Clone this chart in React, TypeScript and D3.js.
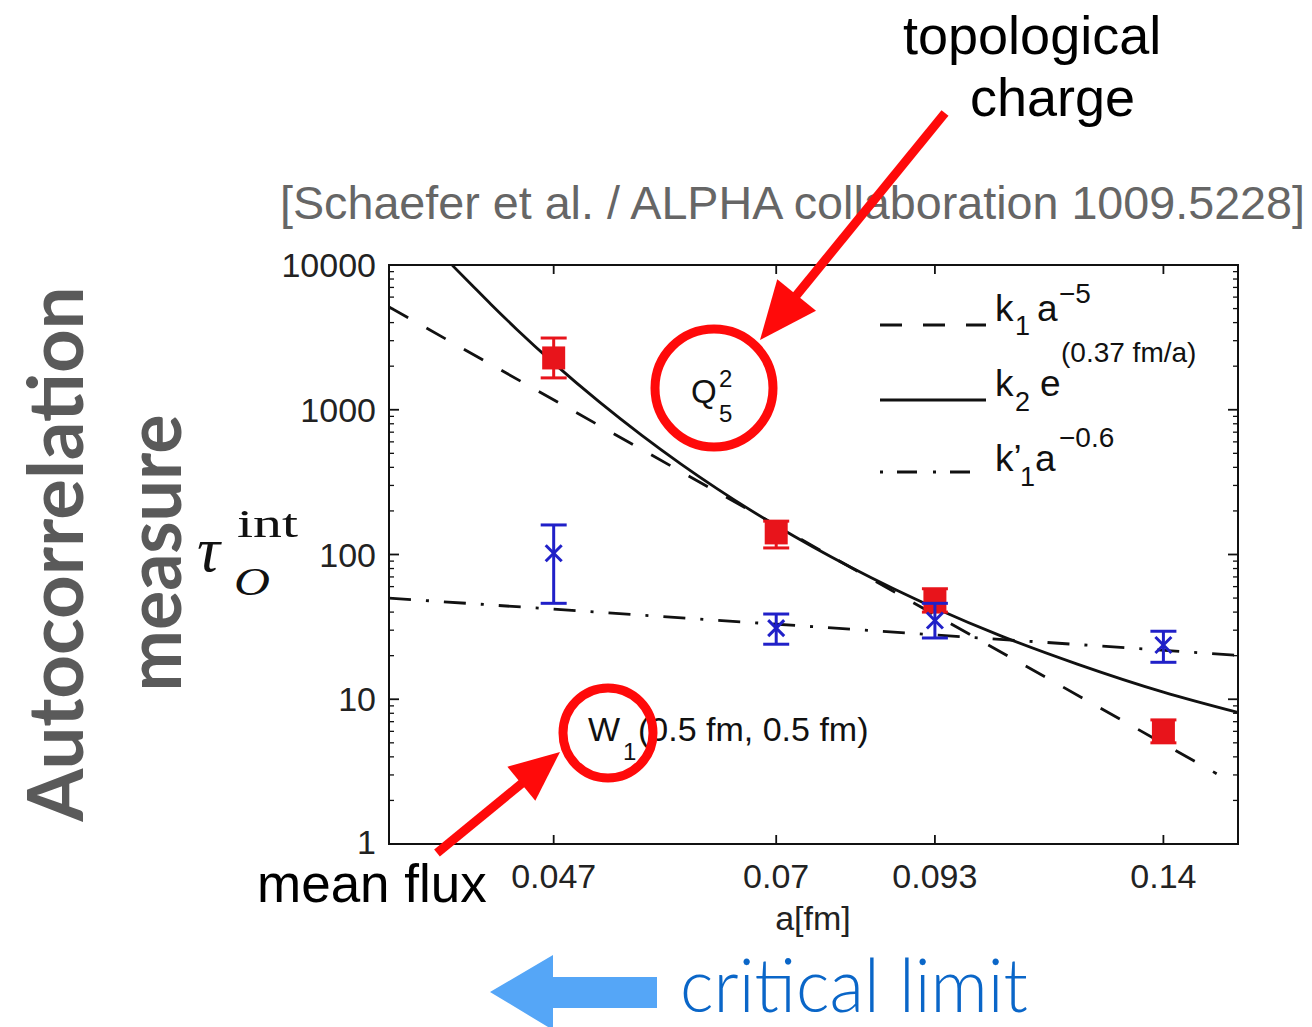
import React from 'react';
import * as d3 from 'd3';

// lattice spacing ticks and tau ticks
const aTicks = [0.047, 0.07, 0.093, 0.14];
const aTickLabels = ['0.047', '0.07', '0.093', '0.14'];
const tauTicks = [1, 10, 100, 1000, 10000];
const tauTickLabels = ['1', '10', '100', '1000', '10000'];

// Q_5^2 (topological charge) – red squares
const topoA = [0.047, 0.07, 0.093, 0.14];
const topoTau = [2280, 141, 48, 5.9];
const topoLo = [1660, 111, 40, 5.0];
const topoHi = [3130, 170, 58, 7.2];

// W_1(0.5 fm, 0.5 fm) (mean flux) – blue crosses
const fluxA = [0.047, 0.07, 0.093, 0.14];
const fluxTau = [102, 31, 35, 23.7];
const fluxLo = [46, 24, 26.5, 18];
const fluxHi = [160, 38.8, 46, 29.5];

// fit curves
const powA = [0.035, 0.154];
const powTau = [5130, 3.06];
const expA = [0.0392, 0.0405, 0.042, 0.044, 0.047, 0.051, 0.055, 0.059, 0.063, 0.07, 0.08, 0.093, 0.105, 0.12, 0.14, 0.16];
const expTau = [9940, 7424, 5360, 3590, 2100, 1133, 668, 423, 284, 158, 81.6, 42.7, 27.1, 17.5, 11.2, 8.1];
const flatA = [0.035, 0.16];
const flatTau = [50, 20.1];

const W = 1312;
const H = 1027;
const left = 389, right = 1238, top = 265, bottom = 844;

const sans = '"Liberation Sans", Arial, Helvetica, sans-serif';
const serif = '"Liberation Serif", "Times New Roman", serif';
const red = '#e8141b';
const blue = '#2020c8';
const annot = '#ff0a0a';

function arrow(x1: number, y1: number, x2: number, y2: number, len: number, half: number) {
  const dx = x2 - x1, dy = y2 - y1;
  const L = Math.hypot(dx, dy);
  const ux = dx / L, uy = dy / L;
  const bx = x2 - ux * len, by = y2 - uy * len;
  const px = -uy, py = ux;
  return {
    shaft: { x1, y1, x2: bx + ux * 2, y2: by + uy * 2 },
    head: `${x2},${y2} ${bx + px * half},${by + py * half} ${bx - px * half},${by - py * half}`,
  };
}

export default function App() {
  const x = d3.scaleLog().domain([0.035, 0.16]).range([left, right]);
  const y = d3.scaleLog().domain([1, 10000]).range([bottom, top]);

  const line = d3
    .line<[number, number]>()
    .x(d => x(d[0]))
    .y(d => y(d[1]))
    .curve(d3.curveMonotoneX);

  const powPath = line(powA.map((a, i) => [a, powTau[i]]) as [number, number][]) || '';
  const expPath = line(expA.map((a, i) => [a, expTau[i]]) as [number, number][]) || '';
  const flatPath = line(flatA.map((a, i) => [a, flatTau[i]]) as [number, number][]) || '';

  // minor log ticks
  const minor: number[] = [];
  [1, 10, 100, 1000].forEach(d => {
    for (let m = 2; m <= 9; m++) minor.push(d * m);
  });

  const arrQ = arrow(945, 113, 760, 340, 58, 25);
  const arrW = arrow(437, 853, 560, 752, 50, 22);

  const cap = 13;
  const sq = 23;
  const xs = 8;

  return (
    <svg width={W} height={H} style={{ position: 'absolute', left: 0, top: 0, background: '#fff' }}>
      <defs>
        <clipPath id="plotClip">
          <rect x={left} y={top} width={right - left} height={bottom - top} />
        </clipPath>
      </defs>
      <rect x={0} y={0} width={W} height={H} fill="#fff" />

      {/* top annotation */}
      <text x={903} y={54} fontFamily={sans} fontSize={54} fill="#000">topological</text>
      <text x={970} y={116} fontFamily={sans} fontSize={54} fill="#000">charge</text>

      {/* citation */}
      <text x={280} y={219} fontFamily={sans} fontSize={46} fill="#666" textLength={1025} lengthAdjust="spacingAndGlyphs">
        [Schaefer et al. / ALPHA collaboration 1009.5228]
      </text>

      {/* y axis side titles */}
      <text transform="translate(83,554) rotate(-90)" textAnchor="middle" fontFamily='Lato, "Open Sans", sans-serif' fontWeight={700} fontSize={76} fill="#5a5a5a" textLength={535} lengthAdjust="spacingAndGlyphs">
        Autocorrelation
      </text>
      <text transform="translate(181,553) rotate(-90)" textAnchor="middle" fontFamily='Lato, "Open Sans", sans-serif' fontWeight={700} fontSize={76} fill="#5a5a5a" textLength={277} lengthAdjust="spacingAndGlyphs">
        measure
      </text>

      {/* tau_O^int label */}
      <text x={197} y={571} fontFamily={serif} fontStyle="italic" fontSize={64} fill="#111">τ</text>
      <text x={237} y={537} fontFamily={serif} fontSize={40} fill="#111" textLength={61} lengthAdjust="spacingAndGlyphs">int</text>
      <text x={234} y={595} fontFamily={serif} fontStyle="italic" fontSize={40} fill="#111" textLength={36} lengthAdjust="spacingAndGlyphs">O</text>

      {/* frame */}
      <rect x={left} y={top} width={right - left} height={bottom - top} fill="none" stroke="#111" strokeWidth={2} />

      {/* y ticks */}
      {tauTicks.map((t, i) => (
        <g key={'yt' + t}>
          <line x1={left} x2={left + 10} y1={y(t)} y2={y(t)} stroke="#111" strokeWidth={1.8} />
          <line x1={right} x2={right - 10} y1={y(t)} y2={y(t)} stroke="#111" strokeWidth={1.8} />
          <text x={376} y={y(t)} dy={t === 1 ? '0.3em' : '0.36em'} textAnchor="end" fontFamily={sans} fontSize={34} fill="#222">
            {tauTickLabels[i]}
          </text>
        </g>
      ))}
      {minor.map(t => (
        <g key={'ym' + t}>
          <line x1={left} x2={left + 5} y1={y(t)} y2={y(t)} stroke="#111" strokeWidth={1.3} />
          <line x1={right} x2={right - 5} y1={y(t)} y2={y(t)} stroke="#111" strokeWidth={1.3} />
        </g>
      ))}

      {/* x ticks */}
      {aTicks.map((a, i) => (
        <g key={'xt' + a}>
          <line x1={x(a)} x2={x(a)} y1={bottom} y2={bottom - 9} stroke="#111" strokeWidth={1.8} />
          <line x1={x(a)} x2={x(a)} y1={top} y2={top + 9} stroke="#111" strokeWidth={1.8} />
          <text x={x(a)} y={888} textAnchor="middle" fontFamily={sans} fontSize={34} fill="#222">
            {aTickLabels[i]}
          </text>
        </g>
      ))}
      <text x={813} y={930} textAnchor="middle" fontFamily={sans} fontSize={34} fill="#222">a[fm]</text>

      {/* fit curves */}
      <g clipPath="url(#plotClip)" fill="none" stroke="#111" strokeWidth={2.8}>
        <path d={powPath} strokeDasharray="22,21" />
        <path d={expPath} />
        <path d={flatPath} strokeDasharray="22,15,3,15" />
      </g>

      {/* topological charge data */}
      {topoA.map((a, i) => (
        <g key={'q' + a} stroke={red} strokeWidth={3}>
          <line x1={x(a)} x2={x(a)} y1={y(topoLo[i])} y2={y(topoHi[i])} />
          <line x1={x(a) - cap} x2={x(a) + cap} y1={y(topoLo[i])} y2={y(topoLo[i])} />
          <line x1={x(a) - cap} x2={x(a) + cap} y1={y(topoHi[i])} y2={y(topoHi[i])} />
          <rect x={x(a) - sq / 2} y={y(topoTau[i]) - sq / 2} width={sq} height={sq} fill={red} stroke="none" />
        </g>
      ))}

      {/* mean flux data */}
      {fluxA.map((a, i) => (
        <g key={'w' + a} stroke={blue} strokeWidth={3}>
          <line x1={x(a)} x2={x(a)} y1={y(fluxLo[i])} y2={y(fluxHi[i])} />
          <line x1={x(a) - cap} x2={x(a) + cap} y1={y(fluxLo[i])} y2={y(fluxLo[i])} />
          <line x1={x(a) - cap} x2={x(a) + cap} y1={y(fluxHi[i])} y2={y(fluxHi[i])} />
          <line x1={x(a) - xs} x2={x(a) + xs} y1={y(fluxTau[i]) - xs} y2={y(fluxTau[i]) + xs} />
          <line x1={x(a) - xs} x2={x(a) + xs} y1={y(fluxTau[i]) + xs} y2={y(fluxTau[i]) - xs} />
        </g>
      ))}

      {/* legend */}
      <g stroke="#111" strokeWidth={2.8}>
        <line x1={880} x2={986} y1={325} y2={325} strokeDasharray="22,21" />
        <line x1={880} x2={986} y1={400} y2={400} />
        <line x1={880} x2={986} y1={472} y2={472} strokeDasharray="3,14,20,16" />
      </g>
      <g fontFamily={sans} fill="#111">
        <text x={995} y={321} fontSize={37}>k</text>
        <text x={1015} y={335} fontSize={27}>1</text>
        <text x={1037} y={321} fontSize={37}>a</text>
        <text x={1059} y={303} fontSize={28}>−5</text>

        <text x={995} y={396} fontSize={37}>k</text>
        <text x={1015} y={411} fontSize={27}>2</text>
        <text x={1040} y={396} fontSize={37}>e</text>
        <text x={1061} y={362} fontSize={28}>(0.37 fm/a)</text>

        <text x={995} y={471} fontSize={37}>k’</text>
        <text x={1020} y={486} fontSize={27}>1</text>
        <text x={1035} y={471} fontSize={37}>a</text>
        <text x={1059} y={447} fontSize={28}>−0.6</text>
      </g>

      {/* in-plot labels */}
      <g fontFamily={sans} fill="#111">
        <text x={691} y={403} fontSize={33}>Q</text>
        <text x={719} y={387} fontSize={24}>2</text>
        <text x={719} y={422} fontSize={24}>5</text>

        <text x={588} y={741} fontSize={34}>W</text>
        <text x={623} y={760} fontSize={24}>1</text>
        <text x={638} y={741} fontSize={34}>(0.5 fm, 0.5 fm)</text>
      </g>

      {/* red annotation circles and arrows */}
      <circle cx={714} cy={388} r={59} fill="none" stroke={annot} strokeWidth={9} />
      <circle cx={608} cy={733} r={45} fill="none" stroke={annot} strokeWidth={9} />
      <line {...arrQ.shaft} stroke={annot} strokeWidth={9} />
      <polygon points={arrQ.head} fill={annot} />
      <line {...arrW.shaft} stroke={annot} strokeWidth={9} />
      <polygon points={arrW.head} fill={annot} />

      <text x={257} y={902} fontFamily={sans} fontSize={53} fill="#000">mean flux</text>

      {/* critical limit */}
      <polygon points="490,992 553,955 553,977 657,977 657,1008 553,1008 553,1030" fill="#55a6f7" />
      <text x={680} y={1012} fontFamily='Lato, "Open Sans", sans-serif' fontWeight={300} fontSize={74} fill="#0a66c8" textLength={348} lengthAdjust="spacingAndGlyphs">
        critical limit
      </text>
    </svg>
  );
}
